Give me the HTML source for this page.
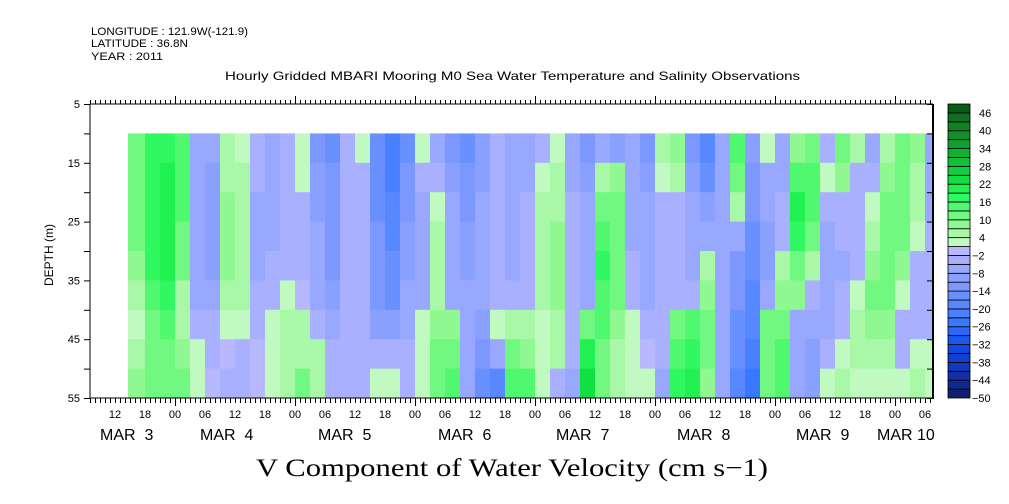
<!DOCTYPE html>
<html><head><meta charset="utf-8">
<style>
html,body{margin:0;padding:0;background:#fff;}
svg{display:block;font-family:"Liberation Sans",sans-serif;}
</style></head>
<body>
<svg id="chart" width="1009" height="504" viewBox="0 0 1009 504" xmlns="http://www.w3.org/2000/svg">
<g font-size="11" fill="#000">
<text x="91" y="35" textLength="157" lengthAdjust="spacingAndGlyphs">LONGITUDE : 121.9W(-121.9)</text>
<text x="91" y="47" textLength="97" lengthAdjust="spacingAndGlyphs">LATITUDE : 36.8N</text>
<text x="91" y="60" textLength="72" lengthAdjust="spacingAndGlyphs">YEAR : 2011</text>
</g>
<text x="225" y="80" textLength="575" lengthAdjust="spacingAndGlyphs" font-size="12">Hourly Gridded MBARI Mooring M0 Sea Water Temperature and Salinity Observations</text>
<g id="cells"></g>
<g id="axes"></g>
<g id="legend"></g>
<text x="256" y="476" textLength="512" lengthAdjust="spacingAndGlyphs" font-size="25" font-family="'Liberation Serif',serif">V Component of Water Velocity (cm s−1)</text>
<text transform="translate(53,255) rotate(-90)" text-anchor="middle" font-size="12">DEPTH (m)</text>
</svg>
<script>
// hours relative to MAR 4 00:00, start of each 3-hour column
const hours = [];
for (let h = -9; h <= 150; h += 3) hours.push(h);
// depth bands (top of band, m)
const depths = [10,15,20,25,30,35,40,45,50];
// velocity values (cm/s), one array per column, top to bottom
const values = [
[12,12,12,10,8,4,2,6,8],[16,16,17,18,16,14,12,10,10],[18,19,20,21,20,18,14,12,12],[15,14,13,12,10,6,5,8,10],
[-6,-7,-8,-8,-8,-6,-3,2,3],[-8,-9,-10,-10,-10,-8,-5,-3,-2],[4,5,8,8,8,6,3,-2,-3],[3,4,6,6,6,4,2,-4,-4],
[-4,-5,-6,-6,-6,-5,-3,-2,-2],[-6,-6,-6,-6,-5,-3,2,3,3],[-5,-5,-5,-4,-3,3,4,5,5],[3,3,-3,-3,-3,-2,4,6,10],
[-12,-10,-9,-8,-8,-6,-3,4,5],[-15,-14,-12,-12,-12,-10,-8,-5,-4],[-5,-5,-5,-5,-5,-5,-4,-5,-5],[3,-3,-3,-3,-3,-3,-3,-4,-5],
[-15,-15,-15,-14,-12,-12,-10,-5,3],[-22,-22,-20,-18,-16,-15,-10,-3,2],[-15,-14,-12,-10,-10,-8,-6,-5,-5],[3,-5,-8,-8,-8,-6,3,3,3],
[-6,-4,3,5,5,6,8,10,12],[-12,-10,-8,-8,-8,-6,8,12,14],[-15,-14,-12,-10,-10,-8,-6,-6,-8],[-10,-10,-8,-8,-8,-8,-10,-12,-15],
[-5,-5,-5,-5,-5,-4,3,-6,-18],[-8,-8,-6,-6,-6,-4,4,10,14],[-6,-6,-4,-4,-4,-3,4,8,15],[-4,3,4,5,5,4,3,2,2],
[3,4,6,8,8,8,6,4,-5],[-6,-6,-5,-5,-5,-4,-3,-3,-6],[-12,-10,-8,-8,-8,-6,10,20,22],[-8,5,10,14,16,15,14,12,12],
[-10,8,10,12,12,10,8,6,5],[-8,-6,-6,-6,-5,-3,3,3,3],[-12,-10,-8,-8,-8,-6,-4,-2,3],[6,3,-3,-5,-5,-5,-3,-3,-6],
[8,4,-3,-4,-4,-4,10,15,18],[-12,-10,-8,-8,-8,-5,15,18,20],[-20,-15,-10,-6,5,8,10,12,8],[-6,-6,-6,-8,-8,-8,-8,-8,-8],
[15,12,5,-8,-12,-12,-15,-15,-20],[-10,-12,-14,-15,-17,-18,-20,-22,-25],[3,-6,-8,-10,-10,-8,10,12,12],[-8,-6,-5,-5,5,8,12,14,14],
[8,15,20,18,12,8,-6,-6,-6],[12,15,15,10,5,-5,-8,-10,-10],[-4,3,-5,-6,-8,-8,-6,-3,3],[12,8,-3,-5,-6,-5,-3,3,5],
[5,-3,-5,-4,-4,3,5,5,3],[-6,-5,3,6,8,10,8,5,3],[5,8,10,12,12,12,8,4,3],[12,12,12,10,8,3,-4,-3,3],
[8,5,4,3,-3,-5,-3,3,4],[-8,-8,-6,-5,-5,-4,-3,3,3]
];
const legendLabels = [46,40,34,28,22,16,10,4,-2,-8,-14,-20,-26,-32,-38,-44,-50];
const depthTicks = [5,15,25,35,45,55];
const dayNames = ["MAR  3","MAR  4","MAR  5","MAR  6","MAR  7","MAR  8","MAR  9","MAR 10"];

const palette = ["#102070","#102890","#1030a8","#1038c0","#1040d0","#1048e0","#1858f0","#2868ff","#3878ff","#4880ff","#5888ff","#6890ff","#7c98ff","#8aa0ff","#98a8ff","#a8b0ff","#b8b8ff",
"#c0fac0","#a8f8a8","#90f890","#70f880","#50f870","#30f860","#20f050","#10e040","#10d040","#10c038","#10b030","#10a030","#109028","#108020","#107020","#0a5a18"];
const PL=90, PR=933, PT=104, PB=398;
const xS = h => 175 + h*5;
const yS = d => PT + (d-5)*(PB-PT)/50;
const colorOf = v => { let i = Math.floor((v+50)/3); i=Math.max(0,Math.min(palette.length-1,i)); return palette[i]; };
const NS="http://www.w3.org/2000/svg";
function mk(tag, attrs, parent){ const e=document.createElementNS(NS,tag); for(const k in attrs) e.setAttribute(k,attrs[k]); parent.appendChild(e); return e; }

const cells=document.getElementById('cells');
hours.forEach((h,i)=>{
  const x0=Math.max(128,xS(h)-2*(i===0)), x1=Math.min(PR,xS(h+3));
  depths.forEach((d,j)=>{
    const r=mk('rect',{x:x0,y:yS(d),width:Math.max(0,x1-x0+0.5),height:yS(d+5)-yS(d)+0.5,fill:colorOf(values[i][j])},cells);
    
    
  });
});

const ax=document.getElementById('axes');
mk('line',{x1:PL,y1:PT,x2:PR,y2:PT,stroke:'#000','stroke-width':1},ax);
mk('line',{x1:PL,y1:PB,x2:PR,y2:PB,stroke:'#000','stroke-width':1},ax);
mk('line',{x1:PL,y1:PT,x2:PL,y2:PB,stroke:'#000','stroke-width':1},ax);
mk('line',{x1:PR,y1:PT,x2:PR,y2:PB+1,stroke:'#000','stroke-width':2},ax);
for(let h=-17; h<=151; h++){
  const x=xS(h)+0.5; const major=((h%24)+24)%24===0;
  mk('line',{x1:x,y1:PT,x2:x,y2:PT-(major?8:4),stroke:'#000'},ax);
  mk('line',{x1:x,y1:PB,x2:x,y2:PB+(major?8:5),stroke:'#000'},ax);
  if(h%6===0 && h>=-12 && h<=150){
    const hh=((h%24)+24)%24;
    const t=mk('text',{x:xS(h),y:418,'text-anchor':'middle','font-size':11},ax);
    t.textContent=String(hh).padStart(2,'0');
    
    
  }
}
const dayX=[100,200,318,438,556,677,796,877];
dayNames.forEach((n,i)=>{
  const t=mk('text',{x:dayX[i],y:440,'font-size':16,'xml:space':'preserve'},ax);
  t.style.whiteSpace='pre';
  t.textContent=n;
  
  
});
for(let d=5; d<=55; d+=5){
  const y=yS(d)+0.5;
  mk('line',{x1:PL-6,y1:y,x2:PL,y2:y,stroke:'#000'},ax);
  mk('line',{x1:PR-6,y1:y,x2:PR,y2:y,stroke:'#000'},ax);
}
depthTicks.forEach(d=>{
  const t=mk('text',{x:80,y:yS(d)+4,'text-anchor':'end','font-size':11},ax);
  t.textContent=d;
  
  
});

const lg=document.getElementById('legend');
const n=palette.length, bh=(PB-PT)/n;
palette.forEach((c,i)=>{
  const r=mk('rect',{x:948,y:PB-(i+1)*bh,width:22,height:bh,fill:c,stroke:'#000','stroke-width':0.8},lg);
  
  
});
legendLabels.forEach(v=>{
  const y=PB-((v+50)/3)*bh;
  const t=mk('text',{x:v<0?972:979,y:y+4,'font-size':11},lg);
  t.textContent=v<0?('−'+(-v)):v;
  
  
});
</script>
</body></html>
